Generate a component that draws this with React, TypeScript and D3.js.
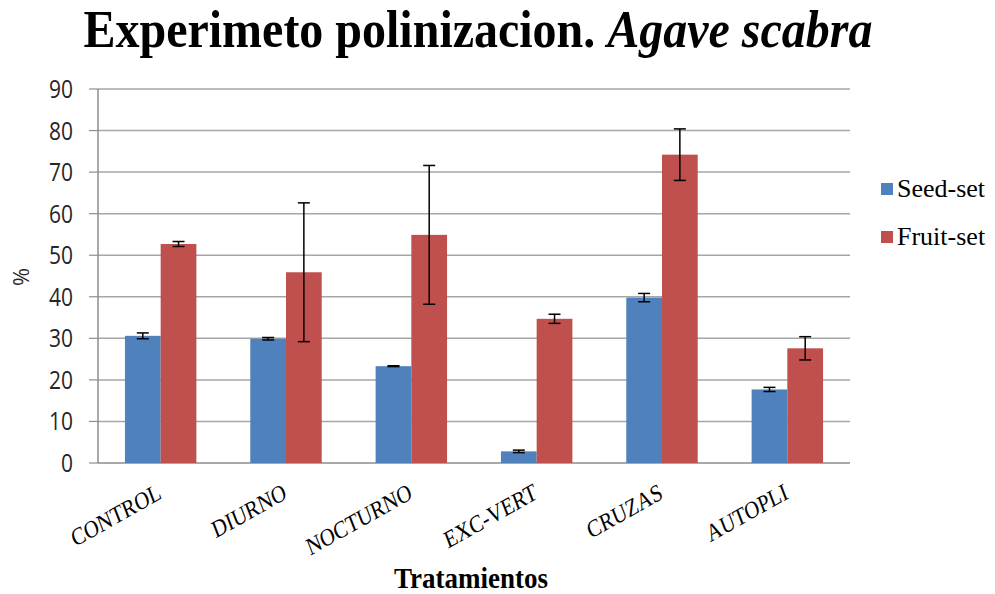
import React from "react";
import * as d3 from "d3";

const categories = ["CONTROL", "DIURNO", "NOCTURNO", "EXC-VERT", "CRUZAS", "AUTOPLI"];
const seedSet = [30.6, 29.9, 23.3, 2.8, 39.8, 17.7];
const seedErr = [0.7, 0.3, 0.1, 0.3, 1.0, 0.5];
const fruitSet = [52.7, 45.9, 54.9, 34.7, 74.2, 27.6];
const fruitErr = [0.6, 16.7, 16.7, 1.1, 6.2, 2.8];
const seriesNames = ["Seed-set", "Fruit-set"];
const seriesColors = ["#4F81BD", "#C0504D"];
const yTicks = [0, 10, 20, 30, 40, 50, 60, 70, 80, 90];

export default function App() {
  const W = 995, H = 594;
  const left = 98, right = 850, top = 89, bottom = 463;
  const x = d3.scaleBand<string>().domain(categories).range([left, right]).paddingInner(0.43).paddingOuter(0.215);
  const x1 = d3.scaleBand<string>().domain(seriesNames).range([0, x.bandwidth()]);
  const y = d3.scaleLinear().domain([0, 90]).range([bottom, top]);
  const series = [
    { name: seriesNames[0], vals: seedSet, errs: seedErr, color: seriesColors[0] },
    { name: seriesNames[1], vals: fruitSet, errs: fruitErr, color: seriesColors[1] },
  ];
  return (
    <svg width={W} height={H} style={{ position: "absolute", left: 0, top: 0, background: "#fff" }}>
      <rect x={0} y={0} width={W} height={H} fill="#fff" />
      <text transform="translate(478,47) scale(1,1.1)" textAnchor="middle" fontFamily="'Liberation Serif', serif" fontWeight="bold" fontSize={48} fill="#000">
        Experimeto polinizacion. <tspan fontStyle="italic">Agave scabra</tspan>
      </text>
      {yTicks.map((t) => (
        <g key={t}>
          {t > 0 && <line x1={left} x2={right} y1={y(t)} y2={y(t)} stroke="#a6a6a6" strokeWidth={1.5} />}
          <line x1={left - 9} x2={left} y1={y(t)} y2={y(t)} stroke="#8c8c8c" strokeWidth={1.2} />
          <text transform={`translate(73,${y(t) + 9}) scale(1,1.2)`} textAnchor="end" fontFamily="'Open Sans', sans-serif" fontSize={21} fill="#262626">{t}</text>
        </g>
      ))}
      <line x1={left} x2={left} y1={top} y2={bottom} stroke="#8c8c8c" strokeWidth={1.5} />
      <line x1={left} x2={right} y1={bottom} y2={bottom} stroke="#8c8c8c" strokeWidth={1.5} />
      {series.map((s) => (
        <g key={s.name}>
          {categories.map((c, i) => {
            const bx = (x(c) || 0) + (x1(s.name) || 0);
            const bw = x1.bandwidth();
            const cx = bx + bw / 2;
            return (
              <g key={c}>
                <rect x={bx} y={y(s.vals[i])} width={bw} height={bottom - y(s.vals[i])} fill={s.color} />
                <line x1={cx} x2={cx} y1={y(s.vals[i] + s.errs[i])} y2={y(s.vals[i] - s.errs[i])} stroke="#000" strokeWidth={1.5} />
                <line x1={cx - 6} x2={cx + 6} y1={y(s.vals[i] + s.errs[i])} y2={y(s.vals[i] + s.errs[i])} stroke="#000" strokeWidth={1.5} />
                <line x1={cx - 6} x2={cx + 6} y1={y(s.vals[i] - s.errs[i])} y2={y(s.vals[i] - s.errs[i])} stroke="#000" strokeWidth={1.5} />
              </g>
            );
          })}
        </g>
      ))}
      {categories.map((c) => {
        const cx = (x(c) || 0) + x.bandwidth() / 2;
        return (
          <text key={c} transform={`translate(${cx + 2},${bottom + 35}) scale(1,1.2) rotate(-25)`} textAnchor="end" fontFamily="'Liberation Serif', serif" fontSize={20.5} fill="#000">{c}</text>
        );
      })}
      <text transform={`translate(29,277) rotate(-90)`} textAnchor="middle" fontFamily="'Open Sans', sans-serif" fontSize={22} fill="#262626">%</text>
      <text transform="translate(471,588) scale(1,1.1)" textAnchor="middle" fontFamily="'Liberation Serif', serif" fontWeight="bold" fontSize={27} fill="#000">Tratamientos</text>
      {series.map((s, i) => (
        <g key={s.name}>
          <rect x={881} y={183 + i * 48} width={12} height={12} fill={s.color} />
          <text x={897} y={197 + i * 48} fontFamily="'Liberation Serif', serif" fontSize={26} fill="#000">{s.name}</text>
        </g>
      ))}
    </svg>
  );
}
